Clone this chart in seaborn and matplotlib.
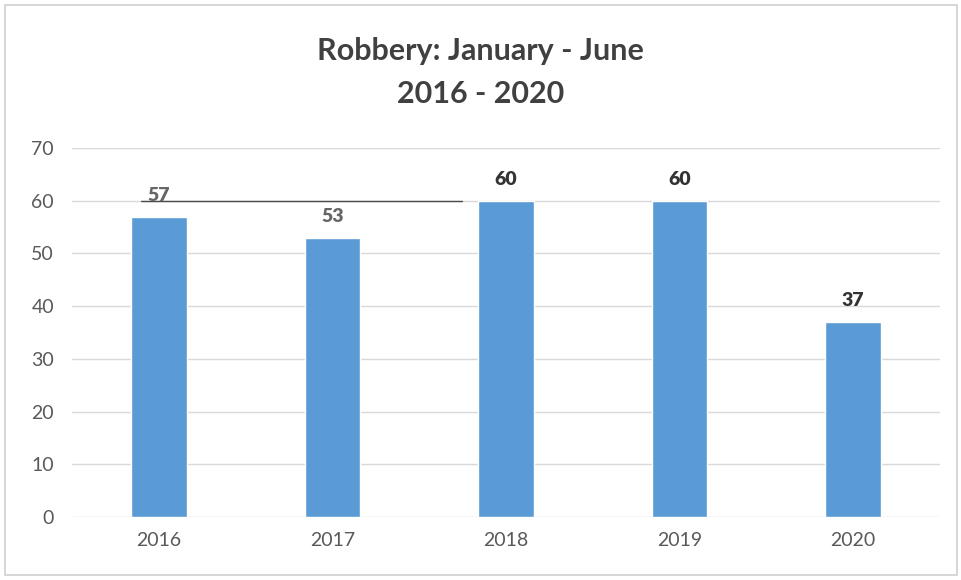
import matplotlib
matplotlib.use("Agg")
import matplotlib.pyplot as plt
import seaborn as sns
import pandas as pd
from matplotlib.patches import Rectangle

years = ["2016", "2017", "2018", "2019", "2020"]
robberies = [57, 53, 60, 60, 37]
label_colors = ["#666666", "#666666", "#333333", "#333333", "#333333"]
y_ticks = [0, 10, 20, 30, 40, 50, 60, 70]

sns.set_theme(style="white")
plt.rcParams["font.family"] = ["Lato", "DejaVu Sans"]

df = pd.DataFrame({"year": years, "robberies": robberies})

fig = plt.figure(figsize=(9.61, 5.80), dpi=100)
ax = fig.add_axes([0.0749, 0.1086, 0.9031, 0.6362])

sns.barplot(data=df, x="year", y="robberies", color="#5B9BD5",
            width=0.32, saturation=1, ax=ax, zorder=3)

ax.set_ylim(0, 70)
ax.set_xlim(-0.5, 4.5)
ax.set_yticks(y_ticks)
ax.yaxis.grid(True, color="#d9d9d9", linewidth=1, zorder=0)
ax.xaxis.grid(False)
for s in ax.spines.values():
    s.set_visible(False)
ax.set_xlabel("")
ax.set_ylabel("")
ax.tick_params(axis="both", length=0, labelsize=14, colors="#595959")
ax.tick_params(axis="y", pad=13)
ax.tick_params(axis="x", pad=11)

# darker segment along the 60 line
ax.plot([-0.1, 1.745], [60, 60], color="#4a4a4a", linewidth=1.0, zorder=2)

for i, (v, c) in enumerate(zip(robberies, label_colors)):
    ax.annotate(str(v), (i, v), xytext=(0, 9), textcoords="offset points",
                ha="center", va="bottom", fontsize=14, fontweight="heavy",
                color=c)

fig.text(0.5, 0.912, "Robbery: January - June", ha="center", va="center",
         fontsize=22, fontweight="bold", color="#404040")
fig.text(0.5, 0.838, "2016 - 2020", ha="center", va="center",
         fontsize=22, fontweight="bold", color="#404040")

fig.patches.append(Rectangle((5 / 961, 5 / 580), 952 / 961, 570 / 580,
                             transform=fig.transFigure, fill=False,
                             edgecolor="#d0d0d0", linewidth=1.2))

fig.savefig("out.png", dpi=100)
